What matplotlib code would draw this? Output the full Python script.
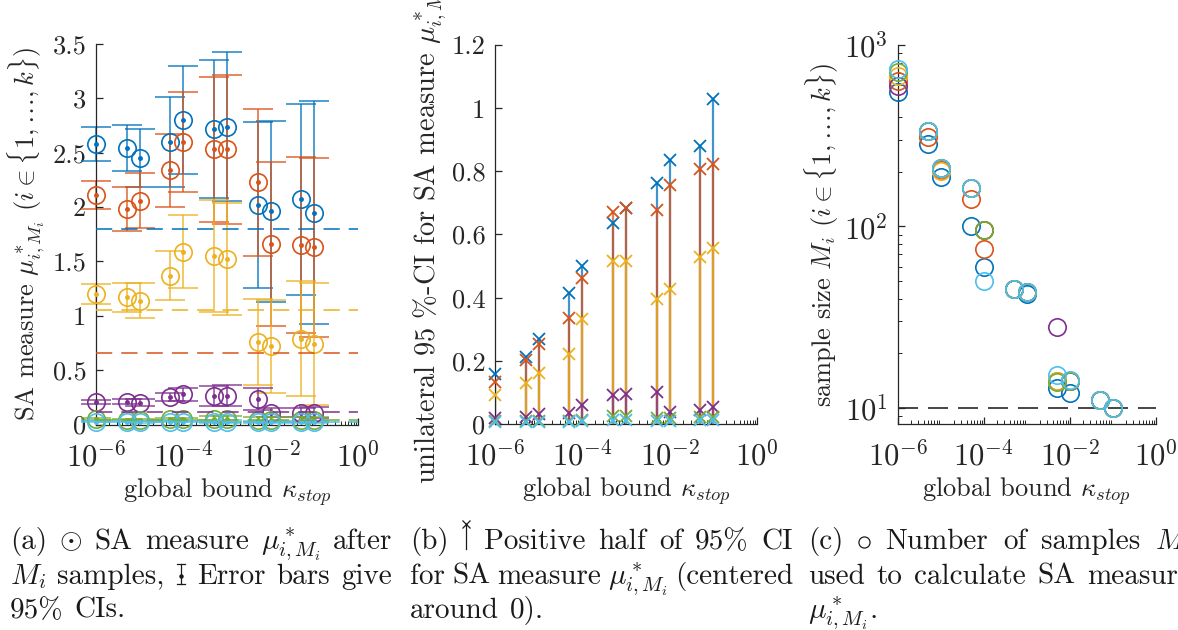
import numpy as np
import matplotlib
matplotlib.use("Agg")
import matplotlib.pyplot as plt
from matplotlib.lines import Line2D
from matplotlib.ticker import FuncFormatter, LogLocator, NullFormatter, MultipleLocator, FixedLocator

plt.rcParams.update({
    "font.family": "serif",
    "font.serif": ["cmr10"],
    "mathtext.fontset": "cm",
    "axes.unicode_minus": False,
    "axes.formatter.use_mathtext": True,
})

# ---- data -------------------------------------------------------------
kappa = [1e-6, 5e-6, 1e-5, 5e-5, 1e-4, 5e-4, 1e-3, 5e-3, 1e-2, 5e-2, 1e-1]

# SA measure mu*_{i,M_i} per parameter
mu_1 = [2.58, 2.54, 2.45, 2.60, 2.80, 2.72, 2.74, 2.02, 1.96, 2.07, 1.95]
mu_2 = [2.11, 1.98, 2.06, 2.34, 2.60, 2.53, 2.53, 2.23, 1.66, 1.65, 1.63]
mu_3 = [1.20, 1.17, 1.14, 1.37, 1.59, 1.55, 1.52, 0.76, 0.72, 0.79, 0.74]
mu_4 = [0.21, 0.21, 0.20, 0.25, 0.28, 0.265, 0.265, 0.235, 0.11, 0.11, 0.11]
mu_5 = [0.05, 0.045, 0.045, 0.05, 0.05, 0.05, 0.05, 0.045, 0.045, 0.045, 0.045]
mu_6 = [0.025, 0.024, 0.024, 0.026, 0.027, 0.026, 0.026, 0.022, 0.023, 0.024, 0.024]

# positive half of the 95% CI
ci_1 = [0.159, 0.212, 0.269, 0.415, 0.50, 0.637, 0.685, 0.762, 0.835, 0.88, 1.03]
ci_2 = [0.132, 0.203, 0.254, 0.336, 0.462, 0.671, 0.685, 0.676, 0.756, 0.806, 0.822]
ci_3 = [0.092, 0.131, 0.161, 0.222, 0.333, 0.517, 0.515, 0.397, 0.428, 0.528, 0.558]
ci_4 = [0.018, 0.023, 0.032, 0.036, 0.060, 0.092, 0.095, 0.100, 0.039, 0.044, 0.053]
ci_5 = [0.008, 0.008, 0.009, 0.010, 0.012, 0.024, 0.024, 0.020, 0.020, 0.022, 0.022]
ci_6 = [0.005, 0.005, 0.006, 0.007, 0.008, 0.012, 0.012, 0.010, 0.011, 0.012, 0.012]

# reference values of the SA measure
mu_ref = [1.80, 0.66, 1.05, 0.112, 0.04, 0.02]

# number of samples M_i
M_1 = [548, 285, 187, 100, 59.3, 45, 42.5, 12.9, 12.0, 11.0, 10]
M_2 = [635, 310, 205, 142, 75.4, 45, 43.5, 14, 14, 11, 10]
M_3 = [677, 337, 203, 163, 96, 45, 43.5, 14, 14, 11, 10]
M_4 = [597, 337, 210, 163, 96, 45, 43.5, 27.9, 14, 11, 10]
M_5 = [706, 337, 210, 163, 96, 45, 43.5, 13.9, 14, 11, 10]
M_6 = [738, 337, 210, 163, 50, 45, 43.5, 15.1, 14.2, 11, 10]
M_min = 10

colors = ["#0072BD", "#D95319", "#EDB120", "#7E2F8E", "#77AC30", "#4DBEEE"]
mus = [mu_1, mu_2, mu_3, mu_4, mu_5, mu_6]
cis = [ci_1, ci_2, ci_3, ci_4, ci_5, ci_6]
Ms = [M_1, M_2, M_3, M_4, M_5, M_6]

# ---- figure -------------------------------------------------------------
W, H = 1178, 630
fig = plt.figure(figsize=(W / 100, H / 100), dpi=100)
AXC = "0.15"
TICK_Y = 19
TICK_X = 22
LAB = 19
CAP = 21


def rect(l, r, t, b):
    return [l / W, 1 - b / H, (r - l) / W, (b - t) / H]


def style(ax):
    for s in ("top", "right"):
        ax.spines[s].set_visible(False)
    for s in ("left", "bottom"):
        ax.spines[s].set_color(AXC)
        ax.spines[s].set_linewidth(0.9)
    ax.set_xscale("log")
    ax.set_xlim(1e-6, 1)
    ax.xaxis.set_major_locator(FixedLocator([1e-6, 1e-4, 1e-2, 1]))
    ax.xaxis.set_minor_locator(LogLocator(base=10, subs=np.arange(2, 10), numticks=20))
    ax.xaxis.set_minor_formatter(NullFormatter())
    ax.xaxis.set_major_formatter(FuncFormatter(lambda v, p: r"$10^{%d}$" % int(round(np.log10(v)))))
    ax.tick_params(which="both", direction="in", colors=AXC, labelcolor=AXC)
    ax.tick_params(which="major", length=5, width=0.9)
    ax.tick_params(which="minor", length=2.8, width=0.7)
    ax.tick_params(axis="x", which="major", labelsize=TICK_X, pad=12)
    ax.tick_params(axis="y", which="major", labelsize=TICK_Y, pad=7)
    ax.set_xlabel(r"global bound $\kappa_{stop}$", fontsize=LAB, color=AXC)
    ax.xaxis.set_label_coords(0.5, -0.135)


plain = FuncFormatter(lambda v, p: "%g" % round(v, 3))

# (a) SA measure with 95% confidence intervals
ax_a = fig.add_axes(rect(96, 358, 44, 424.5))
style(ax_a)
ax_a.set_ylim(0, 3.5)
ax_a.yaxis.set_major_locator(MultipleLocator(0.5))
ax_a.yaxis.set_major_formatter(plain)
for mu, ci, c in zip(mus, cis, colors):
    ax_a.errorbar(kappa, mu, yerr=ci, fmt="none", ecolor=c, elinewidth=1.3,
                  capsize=11, capthick=1.3, alpha=0.75, clip_on=False, zorder=2)
for mu, c in zip(mus, colors):
    ax_a.plot(kappa, mu, "o", ms=12.5, mfc="none", mec=c, mew=1.2, clip_on=False, zorder=3)
    ax_a.plot(kappa, mu, ".", ms=5, color=c, clip_on=False, zorder=3)
for r, c in zip(mu_ref, colors):
    ax_a.axhline(r, color=c, lw=1.3, ls=(0, (9, 5)), alpha=0.85, zorder=4)
ax_a.set_ylabel(r"SA measure $\mu^*_{i,M_i}$ $(i \in \{1,\ldots,k\})$", fontsize=LAB, color=AXC)
ax_a.yaxis.set_label_coords(-0.19, 0.5)

# (b) positive half of the confidence interval, centred around zero
ax_b = fig.add_axes(rect(495, 757, 45, 424))
style(ax_b)
ax_b.set_ylim(0, 1.2)
ax_b.yaxis.set_major_locator(MultipleLocator(0.2))
ax_b.yaxis.set_major_formatter(plain)
for ci, c in zip(cis, colors):
    ax_b.vlines(kappa, 0, ci, colors=c, lw=1.6, alpha=0.75, zorder=2)
for ci, c in zip(cis, colors):
    ax_b.plot(kappa, ci, "x", ms=8, mew=1.3, color=c, clip_on=False, zorder=3)
ax_b.set_ylabel(r"unilateral 95 %-CI for SA measure $\mu^*_{i,M_i}$", fontsize=20.5, color=AXC)
ax_b.yaxis.set_label_coords(-0.18, 0.5)

# (c) number of samples used for each SA measure
ax_c = fig.add_axes(rect(897.7, 1155.7, 45, 424))
style(ax_c)
ax_c.set_yscale("log")
ax_c.set_ylim(10 ** 0.91, 1e3)
ax_c.yaxis.set_major_locator(FixedLocator([10, 100, 1000]))
ax_c.yaxis.set_minor_locator(LogLocator(base=10, subs=np.arange(2, 10), numticks=20))
ax_c.yaxis.set_minor_formatter(NullFormatter())
ax_c.yaxis.set_major_formatter(FuncFormatter(lambda v, p: r"$10^{%d}$" % int(round(np.log10(v)))))
ax_c.tick_params(axis="y", which="major", labelsize=TICK_X)
for m, c in zip(Ms, colors):
    ax_c.plot(kappa, m, "o", ms=12.5, mfc="none", mec=c, mew=1.2, clip_on=False, zorder=3)
ax_c.axhline(M_min, color=AXC, lw=1.2, ls=(0, (12, 6)), zorder=2)
ax_c.set_ylabel(r"sample size $M_i$ $(i \in \{1,\ldots,k\})$", fontsize=LAB, color=AXC)
ax_c.yaxis.set_label_coords(-0.22, 0.5)

# ---- sub-captions ---------------------------------------------------------
renderer = fig.canvas.get_renderer()
EM = CAP * 100 / 72


def icon(kind, x, w, yb):
    cx = x + w / 2
    top = yb - 0.70 * EM
    kw = dict(transform=fig.transFigure, color="0.1", lw=0.9)
    fx = lambda v: v / W
    fy = lambda v: 1 - v / H
    if kind == "errbar":
        fig.add_artist(Line2D([fx(cx)] * 2, [fy(yb), fy(top)], **kw))
        for yy in (yb, top):
            fig.add_artist(Line2D([fx(cx - 4), fx(cx + 4)], [fy(yy)] * 2, **kw))
        fig.add_artist(Line2D([fx(cx)], [fy((yb + top) / 2 + 2)], marker="o", ms=2.2,
                              transform=fig.transFigure, color="0.1"))
    elif kind == "stem":
        top = yb - 0.85 * EM
        fig.add_artist(Line2D([fx(cx)] * 2, [fy(yb), fy(top)], **kw))
        fig.add_artist(Line2D([fx(cx)], [fy(top)], marker="x", ms=5.5, mew=0.9,
                              transform=fig.transFigure, color="0.1"))
    elif kind == "ring":
        fig.add_artist(Line2D([fx(cx)], [fy(yb - 0.25 * EM)], marker="o", ms=8, mew=0.9,
                              mfc="none", transform=fig.transFigure, color="0.1"))


def line(tokens, x0, x1, yb, justify=True):
    items = []
    for tok in tokens:
        if isinstance(tok, tuple):
            items.append(("icon", tok[0], tok[1]))
        else:
            t = fig.text(0, 1 - yb / H, tok, fontsize=CAP, ha="left", va="baseline", color="0.1")
            items.append(("text", t, t.get_window_extent(renderer).width))
    total = sum(i[2] for i in items)
    gap = (x1 - x0 - total) / (len(items) - 1) if justify else 0.36 * EM
    x = x0
    for kind, obj, w in items:
        if kind == "text":
            obj.set_x(x / W)
        else:
            icon(obj, x, w, yb)
        x += w + gap


MU = r"$\mu^*_{i,M_i}$"
BASE = [549, 584, 618]

line(["(a)", r"$\odot$", "SA", "measure", MU, "after"], 10, 392, BASE[0])
line([r"$M_i$", "samples,", ("errbar", 10), "Error", "bars", "give"], 10, 392, BASE[1])
line(["95%", "CIs."], 10, 392, BASE[2], justify=False)

line(["(b)", ("stem", 10), "Positive", "half", "of", "95%", "CI"], 410, 793, BASE[0])
line(["for", "SA", "measure", MU, "(centered"], 410, 793, BASE[1])
line(["around", "0)."], 410, 793, BASE[2], justify=False)

line(["(c)", ("ring", 13), "Number", "of", "samples", r"$M_i$"], 808, 1191, BASE[0])
line(["used", "to", "calculate", "SA", "measure"], 808, 1191, BASE[1])
line([MU + "."], 808, 1191, BASE[2], justify=False)

fig.savefig("out.png", dpi=100)
